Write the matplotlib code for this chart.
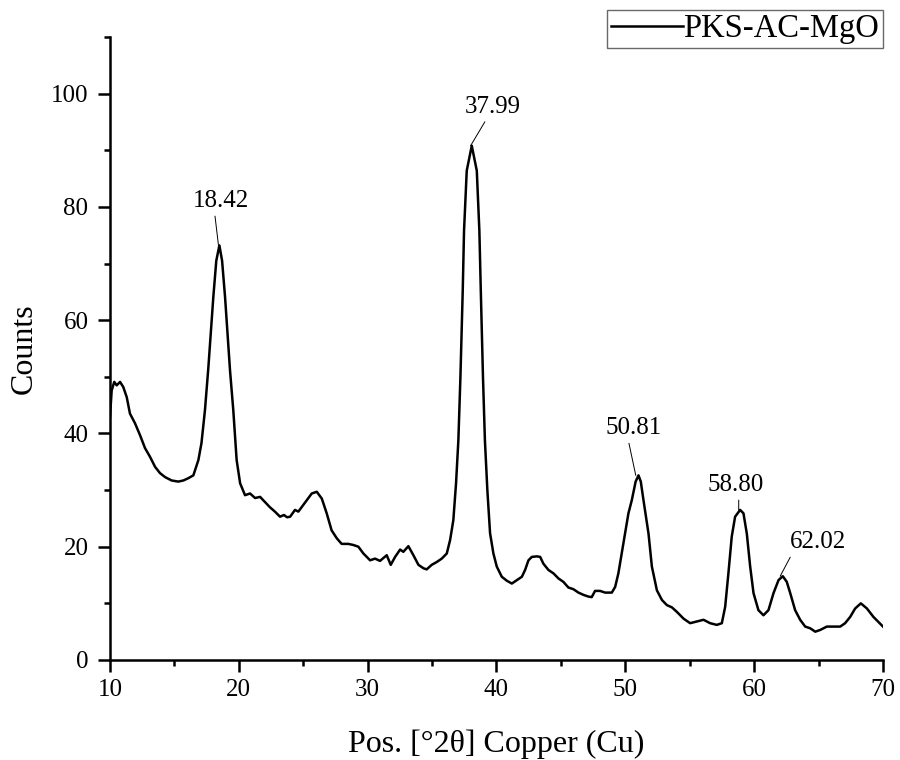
import matplotlib
matplotlib.use("Agg")
import matplotlib.pyplot as plt
from matplotlib.ticker import MultipleLocator

# ---- data ----
two_theta = [10.0, 10.13, 10.33, 10.52, 10.78, 11.03, 11.3, 11.55, 11.94, 12.33,
             12.72, 13.1, 13.5, 13.88, 14.27, 14.78, 15.3, 15.7, 16.08, 16.47,
             16.86, 17.1, 17.37, 17.63, 18.02, 18.25, 18.49, 18.7, 18.93, 19.32,
             19.57, 19.83, 20.1, 20.48, 20.87, 21.26, 21.65, 22.03, 22.4, 22.8,
             23.2, 23.5, 23.75, 23.98, 24.36, 24.62, 24.88, 25.27, 25.66, 26.05,
             26.44, 26.82, 27.2, 27.6, 27.98, 28.5, 28.9, 29.28, 29.67, 30.19,
             30.57, 30.96, 31.48, 31.79, 32.13, 32.52, 32.77, 33.16, 33.55, 33.94,
             34.33, 34.58, 34.97, 35.36, 35.75, 36.14, 36.4, 36.65, 36.86, 37.04,
             37.2, 37.38, 37.48, 37.69, 38.08, 38.47, 38.67, 38.78, 38.95, 39.1,
             39.29, 39.5, 39.76, 40.02, 40.41, 40.8, 41.19, 41.58, 41.97, 42.22,
             42.48, 42.74, 43.13, 43.39, 43.64, 44.03, 44.42, 44.81, 45.19, 45.58,
             45.97, 46.36, 46.75, 47.13, 47.39, 47.65, 48.04, 48.43, 48.95, 49.21,
             49.46, 49.72, 49.98, 50.24, 50.5, 50.8, 51.02, 51.2, 51.41, 51.8,
             52.06, 52.45, 52.84, 53.22, 53.61, 54.0, 54.52, 55.03, 55.55, 56.07,
             56.58, 57.1, 57.49, 57.75, 58.0, 58.26, 58.52, 58.91, 59.17, 59.43,
             59.69, 59.95, 60.33, 60.72, 61.11, 61.5, 61.89, 62.22, 62.53, 62.8,
             63.18, 63.57, 63.96, 64.35, 64.74, 65.12, 65.64, 66.16, 66.68, 67.06,
             67.45, 67.84, 68.28, 68.75, 69.26, 70.0]
counts = [42.9, 47.6, 49.1, 48.5, 49.1, 48.2, 46.4, 43.5, 41.8, 39.7,
          37.4, 35.9, 34.1, 33.0, 32.3, 31.7, 31.5, 31.7, 32.1, 32.6,
          35.3, 38.3, 44.1, 51.5, 64.1, 70.5, 73.2, 70.5, 64.1, 51.0,
          44.1, 35.3, 31.2, 29.1, 29.4, 28.6, 28.8, 27.9, 27.0, 26.2,
          25.3, 25.6, 25.2, 25.3, 26.5, 26.2, 27.0, 28.2, 29.4, 29.7,
          28.5, 25.9, 22.9, 21.5, 20.5, 20.5, 20.3, 20.0, 18.8, 17.6,
          17.9, 17.5, 18.5, 16.8, 18.2, 19.5, 19.1, 20.1, 18.5, 16.8,
          16.2, 16.0, 16.8, 17.3, 17.9, 18.8, 21.2, 24.7, 31.2, 38.8,
          50.0, 65.3, 75.8, 86.4, 90.8, 86.4, 75.8, 65.3, 50.0, 38.8,
          30.0, 22.4, 18.8, 16.5, 14.7, 14.0, 13.5, 14.1, 14.7, 15.9,
          17.6, 18.2, 18.3, 18.2, 17.0, 15.9, 15.3, 14.4, 13.8, 12.8,
          12.5, 11.9, 11.5, 11.2, 11.1, 12.2, 12.2, 11.9, 11.9, 12.9,
          15.3, 18.8, 22.3, 25.9, 28.2, 31.5, 32.6, 31.5, 28.2, 22.3,
          16.5, 12.3, 10.6, 9.7, 9.3, 8.5, 7.3, 6.5, 6.8, 7.1,
          6.5, 6.2, 6.5, 9.4, 15.3, 21.8, 25.3, 26.5, 25.9, 22.3,
          16.5, 11.8, 8.8, 7.9, 8.8, 11.8, 14.1, 14.8, 13.8, 11.8,
          8.8, 7.1, 5.9, 5.6, 5.0, 5.3, 5.9, 5.9, 5.9, 6.5,
          7.6, 9.1, 10.0, 9.1, 7.6, 5.9]

peak_labels = ["18.42", "37.99", "50.81", "58.80", "62.02"]
peak_pos = [18.42, 37.99, 50.81, 58.80, 62.02]
peak_height = [73.2, 90.8, 32.6, 26.5, 14.8]

series_name = "PKS-AC-MgO"
x_label = "Pos. [°2θ] Copper (Cu)"
y_label = "Counts"

# ---- layout / style ----
label_offsets = [(2, 32), (16, 28), (-1.5, 34), (-2, 18), (27, 24.5)]
label_relpos = [(0.38, 0.0), (0.4, 0.0), (0.4, 0.0), (0.55, 0.0), (0.05, 0.0)]

plt.rcParams['font.family'] = ['Liberation Serif', 'DejaVu Serif']

fig = plt.figure(figsize=(9, 7.6), dpi=100)
ax = fig.add_axes([110/900, 100/760, 773/900, 623/760])

ax.plot(two_theta, counts, color='black', lw=1.8, label=series_name)

for lab, px, py, off, rp in zip(peak_labels, peak_pos, peak_height, label_offsets, label_relpos):
    ax.annotate(lab, xy=(px, py), xytext=off, textcoords='offset points',
                ha='center', va='center', fontsize=18,
                arrowprops=dict(arrowstyle='-', lw=0.7, color='black',
                                shrinkA=1, shrinkB=0, relpos=rp))

ax.set_xlim(10, 70)
ax.set_ylim(0, 110)
ax.xaxis.set_major_locator(MultipleLocator(10))
ax.xaxis.set_minor_locator(MultipleLocator(5))
ax.yaxis.set_major_locator(MultipleLocator(20))
ax.yaxis.set_minor_locator(MultipleLocator(10))

for s in ['top', 'right']:
    ax.spines[s].set_visible(False)
for s in ['left', 'bottom']:
    ax.spines[s].set_linewidth(1.8)

ax.tick_params(which='major', direction='out', length=8.5, width=1.8, labelsize=18, pad=7)
ax.tick_params(which='minor', direction='out', length=4.5, width=1.8)
ax.tick_params(axis='x', which='major', pad=5)

ax.set_xlabel(x_label, fontsize=23)
ax.set_ylabel(y_label, fontsize=23)
ax.xaxis.set_label_coords(0.5, -0.112)
ax.yaxis.set_label_coords(-0.092, 0.5)

leg = ax.legend(loc='upper right', bbox_to_anchor=(883/900, 1 - 10/760),
                bbox_transform=fig.transFigure, borderaxespad=0,
                fontsize=23.5, handlelength=2.2, handletextpad=0.0,
                borderpad=0.12, fancybox=False, frameon=True)
leg.get_frame().set_edgecolor('#444444')
leg.get_frame().set_linewidth(1.0)
for line in leg.get_lines():
    line.set_linewidth(1.8)

fig.savefig('out.png', dpi=100)
